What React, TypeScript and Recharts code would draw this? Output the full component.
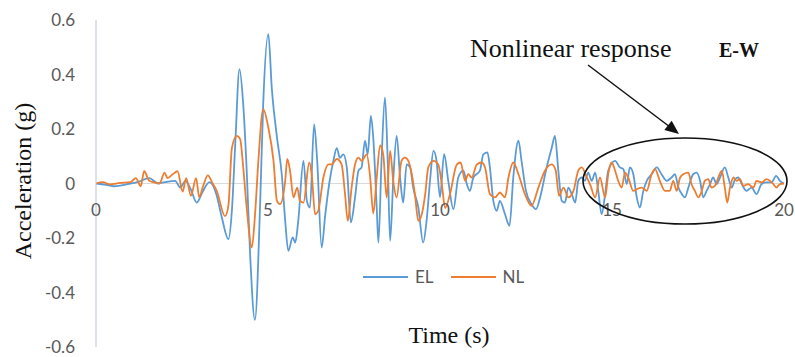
import { Legend, Line, LineChart, ReferenceLine, XAxis, YAxis } from "recharts";

// time (s), acceleration (g)
const elSeries: [number, number][] = [
  [0, 0], [0.3, -0.005], [0.5, -0.01], [0.7, -0.008], [1.0, 0], [1.2, 0.005], [1.55, 0.02], [1.8, 0],
  [2.0, 0.005], [2.3, 0.01], [2.45, -0.015], [2.6, 0.01], [2.75, -0.02], [2.93, -0.07], [3.1, -0.03],
  [3.3, 0.005], [3.5, -0.04], [3.65, -0.12], [3.85, -0.204], [3.95, -0.1], [4.05, 0.15], [4.17, 0.42],
  [4.28, 0.29], [4.38, 0.05], [4.48, -0.26], [4.62, -0.5], [4.77, -0.08], [4.86, 0.29], [5.01, 0.548],
  [5.11, 0.35], [5.26, 0.17], [5.4, 0.034], [5.5, -0.137], [5.59, -0.247], [5.72, -0.198], [5.79, -0.217],
  [5.88, -0.137], [6.03, 0.083], [6.13, -0.064], [6.22, -0.088], [6.34, 0.218], [6.43, 0.083], [6.56, -0.235],
  [6.66, -0.12], [6.78, 0], [6.9, 0.083], [7.0, 0.13], [7.09, 0.094], [7.19, 0.107], [7.29, 0.059],
  [7.41, -0.143], [7.53, -0.051], [7.63, 0.047], [7.72, 0.059], [7.82, 0.157], [7.9, 0.107], [7.99, 0.248],
  [8.06, 0.168], [8.16, -0.088], [8.21, -0.217], [8.3, 0.083], [8.4, 0.316], [8.48, 0.083], [8.55, -0.21],
  [8.64, 0.01], [8.74, 0.175], [8.84, 0.022], [8.93, -0.07], [9.03, 0.07], [9.13, 0.059], [9.22, -0.015],
  [9.37, -0.088], [9.51, -0.217], [9.61, -0.137], [9.71, 0.01], [9.81, 0.12], [9.9, 0.083], [10.0, -0.05],
  [10.12, 0.108], [10.24, 0.01], [10.39, -0.094], [10.53, 0.022], [10.68, 0.047], [10.78, -0.002],
  [10.87, -0.027], [10.97, 0.022], [11.16, 0.047], [11.26, 0.107], [11.38, 0.114], [11.45, 0.059],
  [11.55, -0.064], [11.65, -0.1], [11.74, -0.064], [11.89, -0.113], [12.02, -0.155], [12.13, 0.022],
  [12.28, 0.157], [12.37, 0.083], [12.5, -0.027], [12.66, -0.076], [12.79, -0.094], [12.91, -0.051],
  [13.1, 0.059], [13.25, 0.132], [13.34, 0.175], [13.44, 0.047], [13.54, -0.064], [13.63, -0.07],
  [13.73, -0.015], [13.83, -0.039], [13.93, -0.07], [14.02, 0.01], [14.12, 0.022], [14.21, 0.01],
  [14.31, 0.04], [14.41, 0.01], [14.51, 0.04], [14.6, -0.027], [14.7, -0.113], [14.8, -0.039],
  [14.89, 0.047], [15.09, 0.083], [15.23, 0.059], [15.33, 0.053], [15.43, -0.002], [15.52, 0.059],
  [15.62, 0.034], [15.72, -0.051], [15.81, -0.088], [15.91, -0.027], [16.01, 0.01], [16.15, 0.034],
  [16.3, 0.059], [16.44, 0.034], [16.59, 0.01], [16.73, 0.022], [16.83, 0.034], [16.93, -0.015],
  [17.03, -0.039], [17.12, -0.051], [17.22, -0.015], [17.36, 0.034], [17.46, 0.04], [17.56, 0.01],
  [17.65, -0.051], [17.75, -0.027], [17.85, -0.002], [17.94, 0.022], [18.04, -0.002], [18.14, 0.022],
  [18.28, 0.059], [18.38, 0.022], [18.48, -0.015], [18.58, 0.016], [18.67, 0.022], [18.77, -0.002],
  [18.91, -0.027], [19.06, -0.015], [19.2, -0.039], [19.35, -0.002], [19.49, 0.004], [19.64, 0.004],
  [19.77, 0.028], [19.88, 0.01], [20, 0],
];

const nlSeries: [number, number][] = [
  [0, 0], [0.2, 0.005], [0.4, -0.003], [0.7, 0.002], [1.0, 0.005], [1.16, 0.02], [1.3, -0.01], [1.4, 0.045],
  [1.55, 0.01], [1.7, 0.004], [1.85, 0], [1.99, 0.04], [2.08, 0.02], [2.23, 0.034], [2.37, 0.045],
  [2.52, -0.03], [2.62, 0.02], [2.76, -0.045], [2.91, 0.02], [3.0, -0.05], [3.1, -0.015], [3.25, 0.03],
  [3.39, 0], [3.51, -0.027], [3.75, -0.12], [3.85, -0.08], [3.95, 0.13], [4.09, 0.175], [4.19, 0.163],
  [4.28, 0.059], [4.38, -0.088], [4.53, -0.235], [4.62, -0.12], [4.72, 0.083], [4.86, 0.273], [5.01, 0.205],
  [5.16, 0.083], [5.26, -0.064], [5.35, -0.076], [5.5, 0.01], [5.56, 0.09], [5.64, 0.047], [5.74, -0.051],
  [5.85, -0.015], [5.93, -0.064], [6.03, -0.07], [6.2, 0.077], [6.27, 0.034], [6.37, -0.113], [6.46, -0.1],
  [6.61, 0.022], [6.76, 0.07], [6.85, 0.07], [7.0, 0.09], [7.14, 0.07], [7.24, -0.04], [7.32, -0.137],
  [7.43, -0.015], [7.53, 0.07], [7.63, 0.095], [7.72, 0.083], [7.87, 0.107], [7.97, 0.022], [8.06, -0.11],
  [8.16, 0.022], [8.26, 0.14], [8.35, 0.107], [8.45, -0.051], [8.55, 0.12], [8.64, 0.01], [8.74, -0.051],
  [8.88, 0.083], [8.98, 0.095], [9.08, 0.083], [9.18, 0.034], [9.27, -0.039], [9.37, -0.137], [9.47, -0.113],
  [9.57, -0.039], [9.66, 0.059], [9.81, 0.083], [9.95, 0.07], [10.05, 0], [10.15, -0.09], [10.29, -0.039],
  [10.49, 0.07], [10.6, 0.077], [10.73, 0.01], [10.82, 0.034], [10.92, 0.022], [11.07, 0.07], [11.21, 0.077],
  [11.31, 0.059], [11.45, -0.039], [11.6, -0.051], [11.74, -0.033], [11.89, -0.051], [11.99, 0.022],
  [12.13, 0.077], [12.28, 0.034], [12.47, -0.039], [12.66, -0.082], [12.86, -0.015], [13.05, 0.047],
  [13.25, 0.07], [13.36, 0.05], [13.46, -0.045], [13.59, -0.015], [13.73, -0.051], [13.88, -0.027],
  [14.02, 0.047], [14.12, 0.059], [14.27, 0.022], [14.36, -0.002], [14.51, -0.051], [14.65, 0.022],
  [14.8, -0.051], [14.89, 0.034], [14.99, 0.077], [15.09, 0.047], [15.18, 0.01], [15.28, -0.015],
  [15.38, 0.04], [15.47, 0.022], [15.62, -0.027], [15.72, -0.021], [15.86, -0.015], [16.01, -0.027],
  [16.15, 0.034], [16.25, 0.053], [16.39, 0.01], [16.54, -0.027], [16.68, -0.027], [16.78, 0.01],
  [16.88, -0.027], [16.98, 0.022], [17.07, 0.034], [17.22, 0.04], [17.31, -0.002], [17.41, -0.027],
  [17.51, -0.051], [17.61, -0.027], [17.7, 0.01], [17.8, 0.016], [17.89, -0.015], [17.99, -0.009],
  [18.09, 0.022], [18.19, 0.046], [18.28, -0.015], [18.35, -0.07], [18.43, -0.015], [18.53, 0.022],
  [18.62, 0.01], [18.72, 0.016], [18.82, -0.009], [18.96, -0.002], [19.11, -0.015], [19.2, 0.01],
  [19.35, 0.004], [19.49, 0.016], [19.59, 0.01], [19.69, -0.002], [19.78, -0.015], [19.88, -0.002], [20, 0],
];

const xTicks = [0, 5, 10, 15, 20];
const yTicks = [-0.6, -0.4, -0.2, 0, 0.2, 0.4, 0.6];

const toRows = (s: [number, number][]) => s.map(([t, a]) => ({ t, a }));

const TICK_FONT = "Lato, 'Open Sans', sans-serif";
const SERIF = "'Liberation Serif', 'Times New Roman', serif";

// excel puts the category labels just under the zero line,
// so lift them from the bottom of the plot (y = 347) to y = 216
function XTick(props: any) {
  const { x, y, payload } = props;
  return (
    <text x={x} y={y} dy={216 - y} textAnchor="middle" fill="#595959" fontSize={17} fontFamily={TICK_FONT}>
      {payload.value}
    </text>
  );
}

function LegendBox(props: any) {
  const items = props.payload ?? [];
  return (
    <div style={{ display: "flex", alignItems: "center", fontFamily: TICK_FONT, fontSize: 17, color: "#595959" }}>
      {items.map((item: any) => (
        <span key={item.value} style={{ display: "flex", alignItems: "center", marginRight: 17 }}>
          <svg width={45} height={4}>
            <line x1={0} y1={2} x2={45} y2={2} stroke={item.color} strokeWidth={2} />
          </svg>
          <span style={{ marginLeft: 7 }}>{item.value}</span>
        </span>
      ))}
    </div>
  );
}

export default function App() {
  return (
    <div style={{ position: "absolute", left: 0, top: 0, width: 795, height: 357, background: "#fff" }}>
      <LineChart width={795} height={357} margin={{ top: 20, right: 11, bottom: 0, left: 0 }}>
        <XAxis
          dataKey="t"
          type="number"
          domain={[0, 20]}
          ticks={xTicks}
          interval={0}
          height={10}
          axisLine={false}
          tickLine={false}
          tick={XTick}
          allowDuplicatedCategory={false}
        />
        <YAxis
          type="number"
          domain={[-0.6, 0.6]}
          ticks={yTicks}
          width={96}
          axisLine={{ stroke: "#bcc6d6" }}
          tickLine={false}
          tickSize={0}
          tickMargin={21}
          tick={{ fill: "#595959", fontSize: 17, fontFamily: TICK_FONT }}
          tickFormatter={(v: number) => (v === 0 ? "0" : v.toFixed(1))}
        />
        <ReferenceLine y={0} stroke="#d9d9d9" />
        <Line
          data={toRows(elSeries)}
          dataKey="a"
          name="EL"
          type="monotone"
          stroke="#5b9bd5"
          strokeWidth={1.8}
          dot={false}
          isAnimationActive={false}
        />
        <Line
          data={toRows(nlSeries)}
          dataKey="a"
          name="NL"
          type="monotone"
          stroke="#ed7d31"
          strokeWidth={1.8}
          dot={false}
          isAnimationActive={false}
        />
        <Legend
          verticalAlign="middle"
          content={<LegendBox />}
          wrapperStyle={{ position: "absolute", left: 363, top: 266, width: "auto" }}
        />
      </LineChart>
      <svg
        width={795}
        height={357}
        style={{ position: "absolute", left: 0, top: 0, pointerEvents: "none" }}
      >
        <text
          transform="translate(31 181) rotate(-90)"
          textAnchor="middle"
          fontFamily={SERIF}
          fontSize={24}
          fill="#111"
        >
          Acceleration (g)
        </text>
        <text x={449} y={343} textAnchor="middle" fontFamily={SERIF} fontSize={24} fill="#111">
          Time (s)
        </text>
        <text x={470} y={57} fontFamily={SERIF} fontSize={26} fill="#111">
          Nonlinear response
        </text>
        <text x={719} y={57} fontFamily={SERIF} fontSize={20} fontWeight="bold" fill="#111">
          E-W
        </text>
        <line x1={588} y1={65} x2={670} y2={127} stroke="#111" strokeWidth={1.5} />
        <polygon points="679,134 664.3,130.1 671.7,120.7" fill="#111" />
        <ellipse cx={685} cy={181} rx={102} ry={43} fill="none" stroke="#111" strokeWidth={1.6} />
      </svg>
    </div>
  );
}
